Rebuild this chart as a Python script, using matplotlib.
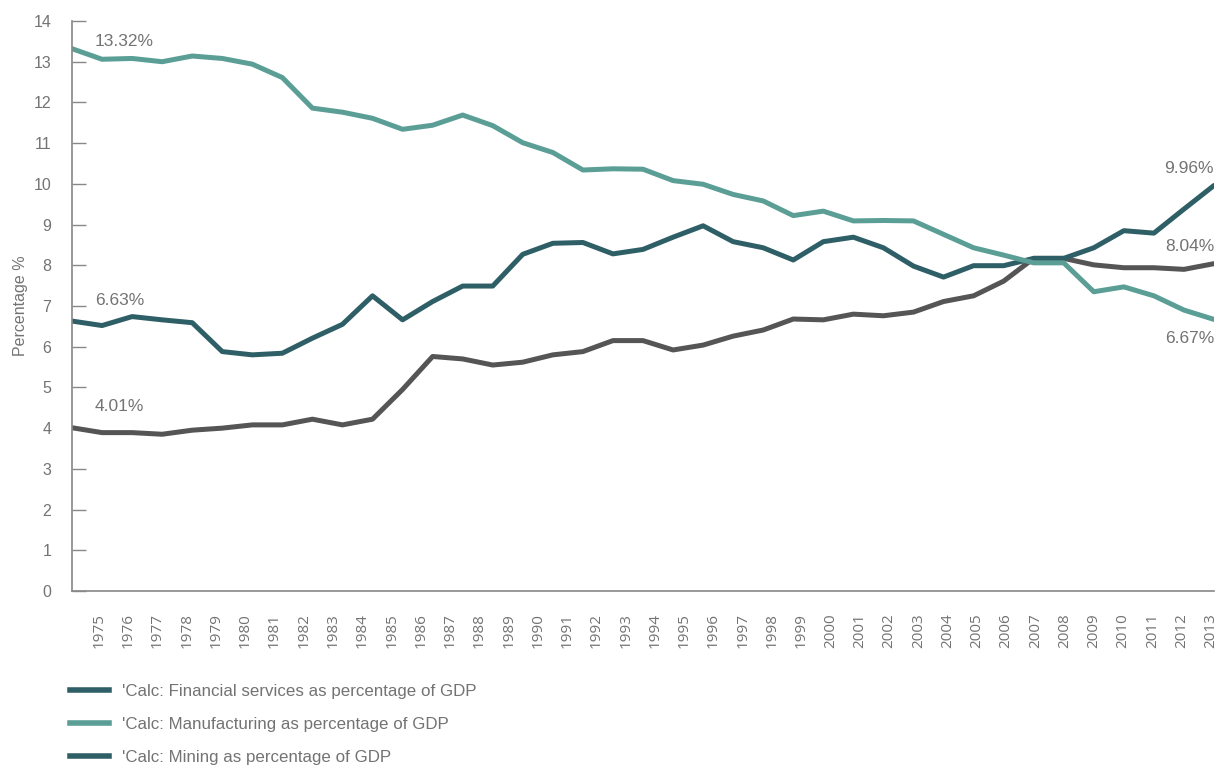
import matplotlib
matplotlib.use("Agg")
import matplotlib.pyplot as plt
from matplotlib.lines import Line2D
import numpy as np

years = list(range(1975, 2014))

financial = [6.63, 6.52, 6.74, 6.66, 6.59, 5.88, 5.80, 5.84, 6.21, 6.55,
             7.25, 6.66, 7.11, 7.49, 7.49, 8.27, 8.54, 8.56, 8.28, 8.39,
             8.69, 8.97, 8.58, 8.43, 8.13, 8.58, 8.69, 8.43, 7.98, 7.71,
             7.99, 7.99, 8.17, 8.17, 8.43, 8.85, 8.79, 9.38, 9.96]

manufacturing = [13.32, 13.06, 13.08, 13.00, 13.14, 13.08, 12.94, 12.61, 11.86, 11.76,
                 11.61, 11.34, 11.44, 11.69, 11.43, 11.01, 10.77, 10.34, 10.37, 10.36,
                 10.08, 9.99, 9.74, 9.58, 9.22, 9.33, 9.09, 9.10, 9.09, 8.76,
                 8.43, 8.25, 8.06, 8.06, 7.35, 7.47, 7.25, 6.90, 6.67]

mining = [4.01, 3.89, 3.89, 3.85, 3.95, 4.00, 4.08, 4.08, 4.22, 4.08,
          4.22, 4.95, 5.76, 5.70, 5.55, 5.62, 5.80, 5.88, 6.15, 6.15,
          5.92, 6.04, 6.26, 6.41, 6.68, 6.66, 6.80, 6.76, 6.85, 7.11,
          7.25, 7.61, 8.17, 8.17, 8.01, 7.94, 7.94, 7.90, 8.04]

series_labels = ["'Calc: Financial services as percentage of GDP",
                 "'Calc: Manufacturing as percentage of GDP",
                 "'Calc: Mining as percentage of GDP"]

c_fin = "#2f5f66"
c_man = "#5a9e96"
c_min = "#555555"
txt = "#737373"

plt.rcParams['font.family'] = ['Liberation Sans', 'DejaVu Sans']

fig = plt.figure(figsize=(12.18, 7.67), dpi=100)
ax = fig.add_axes([72/1218, 1-591/767, (1214-72)/1218, (591-21)/767])

x = np.arange(len(years))
ax.plot(x, mining, color=c_min, lw=3.6, solid_capstyle='round', solid_joinstyle='round')
ax.plot(x, financial, color=c_fin, lw=3.6, solid_capstyle='round', solid_joinstyle='round')
ax.plot(x, manufacturing, color=c_man, lw=3.6, solid_capstyle='round', solid_joinstyle='round')

ax.set_xlim(0, len(years)-1)
ax.set_ylim(0, 14)
ax.set_yticks(range(0, 15))
ax.tick_params(axis='y', direction='in', length=10, width=1, color='#888888',
               labelsize=11.5, labelcolor=txt, pad=15)
# category labels slightly offset from the points, as in the reference
n = len(years)
tick_pos = 0.9 + np.arange(n) * (37.0 / (n - 1))
ax.set_xticks(tick_pos)
ax.set_xticklabels([str(y) for y in years], rotation=90, fontsize=11, color=txt,
                   family=['Open Sans', 'DejaVu Sans'])
ax.tick_params(axis='x', length=0, pad=16)

for s in ['top', 'right']:
    ax.spines[s].set_visible(False)
for s in ['left', 'bottom']:
    ax.spines[s].set_color('#888888')
    ax.spines[s].set_linewidth(1.2)

ax.set_ylabel('Percentage %', fontsize=11.5, color=txt, labelpad=4)

# value annotations
fs_ann = 12.5
ax.annotate(f"{manufacturing[0]:.2f}%", (x[0], manufacturing[0]), xytext=(23, 7),
            textcoords='offset pixels', fontsize=fs_ann, color=txt, ha='left', va='center')
ax.annotate(f"{financial[0]:.2f}%", (x[0], financial[0]), xytext=(23, 21),
            textcoords='offset pixels', fontsize=fs_ann, color=txt, ha='left', va='center')
ax.annotate(f"{mining[0]:.2f}%", (x[0], mining[0]), xytext=(23, 21),
            textcoords='offset pixels', fontsize=fs_ann, color=txt, ha='left', va='center')
ax.annotate(f"{financial[-1]:.2f}%", (x[-1], financial[-1]), xytext=(0, 17),
            textcoords='offset pixels', fontsize=fs_ann, color=txt, ha='right', va='center')
ax.annotate(f"{mining[-1]:.2f}%", (x[-1], mining[-1]), xytext=(0, 17),
            textcoords='offset pixels', fontsize=fs_ann, color=txt, ha='right', va='center')
ax.annotate(f"{manufacturing[-1]:.2f}%", (x[-1], manufacturing[-1]), xytext=(0, -19),
            textcoords='offset pixels', fontsize=fs_ann, color=txt, ha='right', va='center')

handles = [Line2D([], [], color=c_fin, lw=4),
           Line2D([], [], color=c_man, lw=4),
           Line2D([], [], color=c_fin, lw=4)]
leg = fig.legend(handles, series_labels, loc='upper left',
                 bbox_to_anchor=(70/1218, 1-684/767), frameon=False,
                 fontsize=12.2, handlelength=2.3, handletextpad=0.75,
                 labelspacing=1.06, borderpad=0, borderaxespad=0)
for t in leg.get_texts():
    t.set_color(txt)

fig.savefig('out.png', dpi=100)
